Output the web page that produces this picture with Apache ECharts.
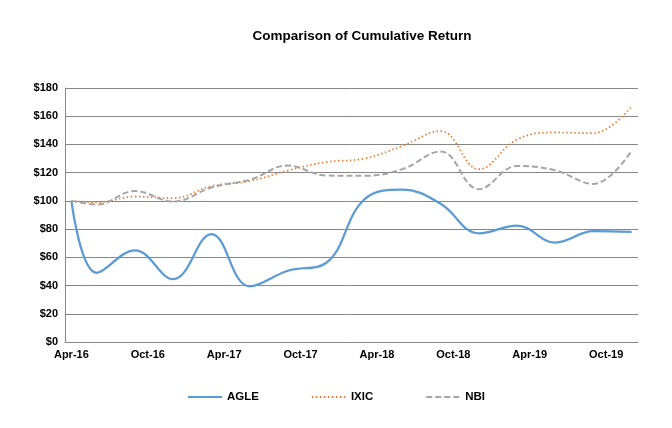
<!DOCTYPE html>
<html>
<head>
<meta charset="utf-8">
<script src="https://cdn.jsdelivr.net/npm/echarts@6/dist/echarts.min.js"></script>
<style>
  html, body { margin: 0; padding: 0; background: #fff; }
  #main { width: 672px; height: 428px; }
</style>
</head>
<body>
<div id="main"></div>
<script>
// ==============================
// Data
// ==============================

// month index from Apr-16 (0) to Dec-19 (44)
const pointMonths = [0, 2, 5, 8, 11, 14, 17, 20, 23, 26, 29, 32, 35, 38, 41, 44];

const agle = [100, 49, 65, 44.5, 76.5, 39.5, 50.5, 56, 101, 108, 98, 77, 82.5, 70.5, 78.5, 78];
const ixic = [100, 99, 103, 102, 110.5, 114, 121.5, 127.5, 130, 139, 149.5, 122.5, 143.5, 148.5, 148, 167];
const nbi  = [100, 97.5, 107, 99.5, 109.5, 115, 125, 118, 117.8, 122.5, 135, 108.3, 124.7, 121.7, 112, 135.6];

const monthNames = ['Jan','Feb','Mar','Apr','May','Jun','Jul','Aug','Sep','Oct','Nov','Dec'];

// ==============================
// Category axis (one band per month)
// ==============================

const categories = [];
for (let i = 0; i < 45; i++) {
    const m = (3 + i) % 12;
    const y = 16 + Math.floor((3 + i) / 12);
    categories.push(monthNames[m] + '-' + y);
}

function toSeries(values){
    return pointMonths.map((m, i) => [m, values[i]]);
}

// ==============================
// Chart
// ==============================

var myChart = echarts.init(document.getElementById('main'));

const axisGray = '#868686';
const font = '"Liberation Sans", Arial, sans-serif';

myChart.setOption({

    backgroundColor: '#ffffff',

    title: {
        text: 'Comparison of Cumulative Return',
        left: 357,
        top: 24,
        textAlign: 'center',
        textStyle: {
            fontFamily: font,
            fontSize: 13.5,
            fontWeight: 'bold',
            color: '#000'
        }
    },

    legend: {
        bottom: 20,
        left: 'center',
        itemWidth: 34,
        itemHeight: 10,
        itemGap: 52,
        itemStyle: { opacity: 0 },
        textStyle: {
            fontFamily: font,
            fontSize: 11.5,
            fontWeight: 'bold',
            color: '#000'
        },
        data: ['AGLE', 'IXIC', 'NBI']
    },

    grid: {
        left: 65,
        right: 34,
        top: 88,
        bottom: 86
    },

    xAxis: {
        type: 'category',
        data: categories,
        boundaryGap: true,
        axisLine: { lineStyle: { color: axisGray, width: 1 } },
        axisTick: {
            interval: 5,
            length: 5,
            lineStyle: { color: axisGray }
        },
        axisLabel: {
            interval: 5,
            margin: 7,
            fontFamily: font,
            fontSize: 11,
            fontWeight: 'bold',
            color: '#000'
        },
        splitLine: { show: false }
    },

    yAxis: {
        type: 'value',
        min: 0,
        max: 180,
        interval: 20,
        axisLine: { show: true, lineStyle: { color: axisGray, width: 1 } },
        axisTick: { show: false },
        axisLabel: {
            margin: 7,
            formatter: v => '$' + v,
            fontFamily: font,
            fontSize: 11,
            fontWeight: 'bold',
            color: '#000'
        },
        splitLine: { lineStyle: { color: axisGray, width: 1 } }
    },

    series: [
        {
            name: 'AGLE',
            type: 'line',
            data: toSeries(agle),
            smooth: 0.4,
            symbol: 'none',
            lineStyle: { color: '#5B9BD5', width: 2.25 },
            itemStyle: { color: '#5B9BD5' }
        },
        {
            name: 'IXIC',
            type: 'line',
            data: toSeries(ixic),
            smooth: 0.4,
            symbol: 'none',
            lineStyle: { color: '#ED7D31', width: 1.75, type: [1.5, 2.5] },
            itemStyle: { color: '#ED7D31' }
        },
        {
            name: 'NBI',
            type: 'line',
            data: toSeries(nbi),
            smooth: 0.4,
            symbol: 'none',
            lineStyle: { color: '#A5A5A5', width: 2, type: [6, 3] },
            itemStyle: { color: '#A5A5A5' }
        }
    ]

});
</script>
</body>
</html>
